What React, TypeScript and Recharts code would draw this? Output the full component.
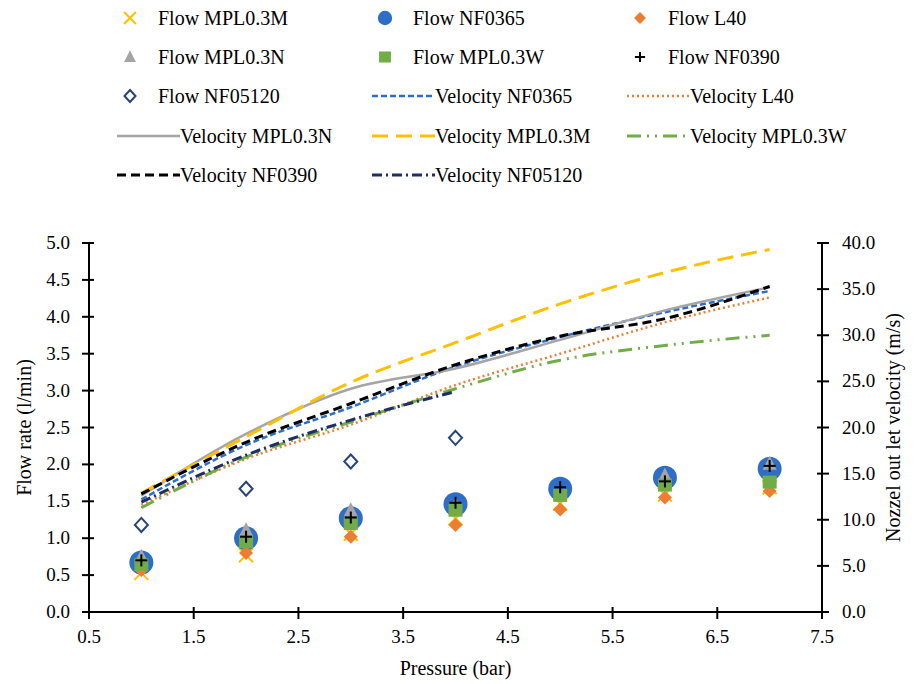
import { ComposedChart, Line, Scatter, XAxis, YAxis, Legend } from 'recharts';

const FONT = "'Liberation Serif', 'DejaVu Serif', Tinos, serif";

// pressure (bar)
const pressure = [1, 2, 3, 4, 5, 6, 7];

// flow rate (l/min)
const flowMPL03M = [0.53, 0.77, 1.06, 1.27, 1.47, 1.59, 1.69];
const flowNF0365 = [0.67, 1.0, 1.27, 1.46, 1.67, 1.82, 1.94];
const flowL40 = [0.57, 0.8, 1.02, 1.18, 1.39, 1.55, 1.64];
const flowMPL03N = [0.75, 1.11, 1.38, 1.45, 1.6, 1.85, 2.01];
const flowMPL03W = [0.64, 0.95, 1.2, 1.38, 1.58, 1.72, 1.76];
const flowNF0390 = [0.7, 1.02, 1.28, 1.48, 1.69, 1.77, 1.98];
const flowNF05120 = [1.18, 1.67, 2.04, 2.36, null, null, null];

// nozzle outlet velocity (m/s)
const velNF0365 = [12.2, 18.1, 22.2, 26.6, 29.8, 32.5, 34.8];
const velL40 = [11.6, 16.6, 20.3, 24.6, 28.0, 31.4, 34.1];
const velMPL03N = [12.6, 19.3, 24.2, 26.4, 29.5, 32.7, 35.2];
const velMPL03M = [12.9, 19.0, 24.9, 29.2, 33.4, 36.8, 39.3];
const velMPL03W = [11.3, 16.8, 20.6, 24.2, 27.3, 28.9, 30.0];
const velNF0390 = [12.8, 18.4, 22.6, 26.8, 29.9, 31.8, 35.3];
const velNF05120 = [11.9, 17.0, 20.8, 23.9, null, null, null];

const xTicks = [0.5, 1.5, 2.5, 3.5, 4.5, 5.5, 6.5, 7.5];
const flowTicks = [0, 0.5, 1, 1.5, 2, 2.5, 3, 3.5, 4, 4.5, 5];
const velTicks = [0, 5, 10, 15, 20, 25, 30, 35, 40];

const chartData = pressure.map((p, i) => ({
  p,
  vNF0365: velNF0365[i],
  vL40: velL40[i],
  vMPL03N: velMPL03N[i],
  vMPL03M: velMPL03M[i],
  vMPL03W: velMPL03W[i],
  vNF0390: velNF0390[i],
  vNF05120: velNF05120[i],
}));

const points = (ys: (number | null)[]) =>
  pressure.map((p, i) => ({ p, v: ys[i] })).filter((d) => d.v !== null);

const C = {
  yellow: '#FFC000',
  blue: '#2F6EC6',
  orange: '#ED7D31',
  gray: '#A5A5A5',
  green: '#70AD47',
  black: '#000000',
  navy: '#264478',
  navyLine: '#1F2F66',
};

// marker glyphs, centred on (cx, cy)
function drawMarker(kind: string, cx: number, cy: number, s = 1) {
  switch (kind) {
    case 'x':
      return (
        <g stroke={C.yellow} strokeWidth={2}>
          <line x1={cx - 7 * s} y1={cy - 7 * s} x2={cx + 7 * s} y2={cy + 7 * s} />
          <line x1={cx - 7 * s} y1={cy + 7 * s} x2={cx + 7 * s} y2={cy - 7 * s} />
        </g>
      );
    case 'circle':
      return <circle cx={cx} cy={cy} r={12 * s} fill={C.blue} />;
    case 'diamond':
      return (
        <polygon
          points={`${cx},${cy - 7 * s} ${cx + 7 * s},${cy} ${cx},${cy + 7 * s} ${cx - 7 * s},${cy}`}
          fill={C.orange}
        />
      );
    case 'triangle':
      return (
        <polygon
          points={`${cx},${cy - 8 * s} ${cx + 7 * s},${cy + 6 * s} ${cx - 7 * s},${cy + 6 * s}`}
          fill={C.gray}
        />
      );
    case 'square':
      return <rect x={cx - 7 * s} y={cy - 6.5 * s} width={14 * s} height={13 * s} fill={C.green} />;
    case 'plus':
      return (
        <g stroke={C.black} strokeWidth={2}>
          <line x1={cx - 6 * s} y1={cy} x2={cx + 6 * s} y2={cy} />
          <line x1={cx} y1={cy - 6 * s} x2={cx} y2={cy + 6 * s} />
        </g>
      );
    case 'open':
      return (
        <polygon
          points={`${cx},${cy - 7 * s} ${cx + 6.5 * s},${cy} ${cx},${cy + 7 * s} ${cx - 6.5 * s},${cy}`}
          fill="#fff"
          stroke={C.navy}
          strokeWidth={2}
        />
      );
    default:
      return null;
  }
}

const shapeOf = (kind: string) => (props: any) => drawMarker(kind, props.cx, props.cy);

const legendItems = [
  { label: 'Flow MPL0.3M', marker: 'x' },
  { label: 'Flow NF0365', marker: 'circle' },
  { label: 'Flow L40', marker: 'diamond' },
  { label: 'Flow MPL0.3N', marker: 'triangle' },
  { label: 'Flow MPL0.3W', marker: 'square' },
  { label: 'Flow NF0390', marker: 'plus' },
  { label: 'Flow NF05120', marker: 'open' },
  { label: 'Velocity NF0365', color: C.blue, dash: '6 3', w: 2.5 },
  { label: 'Velocity L40', color: C.orange, dash: '2 3', w: 2.5 },
  { label: 'Velocity MPL0.3N', color: C.gray, dash: undefined, w: 2.5 },
  { label: 'Velocity MPL0.3M', color: C.yellow, dash: '16 8', w: 3 },
  { label: 'Velocity MPL0.3W', color: C.green, dash: '14 6 2 6 2 6', w: 3 },
  { label: 'Velocity NF0390', color: C.black, dash: '9 5', w: 3 },
  { label: 'Velocity NF05120', color: C.navyLine, dash: '10 4 2 4', w: 3 },
];

function ChartLegend() {
  return (
    <div style={{ position: 'relative', width: 917, height: 200, fontFamily: FONT, fontSize: 20, color: '#000' }}>
      {legendItems.map((it: any, i) => {
        const col = i % 3;
        const row = Math.floor(i / 3);
        const left = 117 + col * 255;
        const cy = 18 + row * 39.2;
        return (
          <div key={it.label} style={{ position: 'absolute', left, top: cy - 11, height: 22, whiteSpace: 'nowrap' }}>
            <svg width={63} height={22} style={{ position: 'absolute', left: 0, top: 0 }}>
              {it.marker
                ? drawMarker(it.marker, 13, 11, it.marker === 'circle' ? 0.6 : 0.85)
                : (
                  <line x1={0} x2={63} y1={11} y2={11} stroke={it.color} strokeWidth={it.w} strokeDasharray={it.dash} />
                )}
            </svg>
            <span style={{ position: 'absolute', left: it.marker ? 41 : 63, top: 0, lineHeight: '22px' }}>{it.label}</span>
          </div>
        );
      })}
    </div>
  );
}

// ticks that cross the axis line, like the original
const LeftTick = ({ x, y, payload }: any) => (
  <g>
    <line x1={x + 19} x2={x + 24} y1={y} y2={y} stroke="#000" strokeWidth={2} />
    <text x={x} y={y} dy={6} textAnchor="end" fontFamily={FONT} fontSize={19} fill="#000">
      {Number(payload.value).toFixed(1)}
    </text>
  </g>
);

const RightTick = ({ x, y, payload }: any) => (
  <g>
    <line x1={x - 20} x2={x - 25} y1={y} y2={y} stroke="#000" strokeWidth={2} />
    <text x={x} y={y} dy={6} textAnchor="start" fontFamily={FONT} fontSize={19} fill="#000">
      {Number(payload.value).toFixed(1)}
    </text>
  </g>
);

const BottomTick = ({ x, y, payload }: any) => (
  <g>
    <line x1={x} x2={x} y1={y - 13} y2={y - 18} stroke="#000" strokeWidth={2} />
    <text x={x} y={y} dy={18} textAnchor="middle" fontFamily={FONT} fontSize={19} fill="#000">
      {Number(payload.value).toFixed(1)}
    </text>
  </g>
);

export default function App() {
  return (
    <div style={{ position: 'absolute', left: 0, top: 0, width: 917, height: 684, background: '#fff', fontFamily: FONT }}>
      <ComposedChart width={917} height={684} data={chartData} margin={{ top: 243, right: 0, bottom: 0, left: 0 }}>
        <Legend
          layout="horizontal"
          verticalAlign="middle"
          wrapperStyle={{ top: 0, left: 0, width: 917, height: 200 }}
          content={() => <ChartLegend />}
        />
        <XAxis
          dataKey="p"
          type="number"
          domain={[0.5, 7.5]}
          ticks={xTicks}
          interval={0}
          height={72}
          tickSize={7}
          tickMargin={6}
          tick={<BottomTick />}
          stroke="#000"
          strokeWidth={2}
          axisLine={{ stroke: '#000', strokeWidth: 2 }}
          tickLine={{ stroke: '#000', strokeWidth: 2 }}
          label={{ value: 'Pressure (bar)', position: 'insideBottom', offset: 9, fill: '#000', fontSize: 20, fontFamily: FONT }}
        />
        <XAxis
          xAxisId="top"
          dataKey="p"
          type="number"
          orientation="top"
          domain={[0.5, 7.5]}
          height={0}
          tick={false}
          tickLine={false}
          axisLine={{ stroke: '#000', strokeWidth: 2 }}
        />
        <YAxis
          yAxisId="flow"
          orientation="left"
          width={89}
          domain={[0, 5]}
          ticks={flowTicks}
          interval={0}
          tickSize={7}
          tickMargin={12}
          tick={<LeftTick />}
          axisLine={{ stroke: '#000', strokeWidth: 2 }}
          tickLine={{ stroke: '#000', strokeWidth: 2 }}
          label={() => (
            <text
              transform="translate(24, 427.5) rotate(-90)"
              textAnchor="middle"
              dominantBaseline="central"
              fontFamily={FONT}
              fontSize={20}
              fill="#000"
            >
              Flow rate (l/min)
            </text>
          )}
        />
        <YAxis
          yAxisId="vel"
          orientation="right"
          width={95}
          domain={[0, 40]}
          ticks={velTicks}
          interval={0}
          tickSize={7}
          tickMargin={13}
          tick={<RightTick />}
          axisLine={{ stroke: '#000', strokeWidth: 2 }}
          tickLine={{ stroke: '#000', strokeWidth: 2 }}
          label={() => (
            <text
              transform="translate(893, 427.5) rotate(-90)"
              textAnchor="middle"
              dominantBaseline="central"
              fontFamily={FONT}
              fontSize={20}
              fill="#000"
            >
              Nozzel  out let velocity (m/s)
            </text>
          )}
        />

        <Line yAxisId="vel" type="monotone" dataKey="vNF0365" stroke={C.blue} strokeWidth={2.5} strokeDasharray="6 3" dot={false} isAnimationActive={false} />
        <Line yAxisId="vel" type="monotone" dataKey="vL40" stroke={C.orange} strokeWidth={2.5} strokeDasharray="2 3" dot={false} isAnimationActive={false} />
        <Line yAxisId="vel" type="monotone" dataKey="vMPL03N" stroke={C.gray} strokeWidth={2.5} dot={false} isAnimationActive={false} />
        <Line yAxisId="vel" type="monotone" dataKey="vMPL03M" stroke={C.yellow} strokeWidth={3} strokeDasharray="16 8" dot={false} isAnimationActive={false} />
        <Line yAxisId="vel" type="monotone" dataKey="vMPL03W" stroke={C.green} strokeWidth={3} strokeDasharray="14 6 2 6 2 6" dot={false} isAnimationActive={false} />
        <Line yAxisId="vel" type="monotone" dataKey="vNF0390" stroke={C.black} strokeWidth={3} strokeDasharray="9 5" dot={false} isAnimationActive={false} />
        <Line yAxisId="vel" type="monotone" dataKey="vNF05120" stroke={C.navyLine} strokeWidth={3} strokeDasharray="10 4 2 4" dot={false} isAnimationActive={false} />

        <Scatter yAxisId="flow" data={points(flowMPL03M)} dataKey="v" shape={shapeOf('x')} isAnimationActive={false} />
        <Scatter yAxisId="flow" data={points(flowNF0365)} dataKey="v" shape={shapeOf('circle')} isAnimationActive={false} />
        <Scatter yAxisId="flow" data={points(flowL40)} dataKey="v" shape={shapeOf('diamond')} isAnimationActive={false} />
        <Scatter yAxisId="flow" data={points(flowMPL03N)} dataKey="v" shape={shapeOf('triangle')} isAnimationActive={false} />
        <Scatter yAxisId="flow" data={points(flowMPL03W)} dataKey="v" shape={shapeOf('square')} isAnimationActive={false} />
        <Scatter yAxisId="flow" data={points(flowNF0390)} dataKey="v" shape={shapeOf('plus')} isAnimationActive={false} />
        <Scatter yAxisId="flow" data={points(flowNF05120)} dataKey="v" shape={shapeOf('open')} isAnimationActive={false} />
      </ComposedChart>
    </div>
  );
}
